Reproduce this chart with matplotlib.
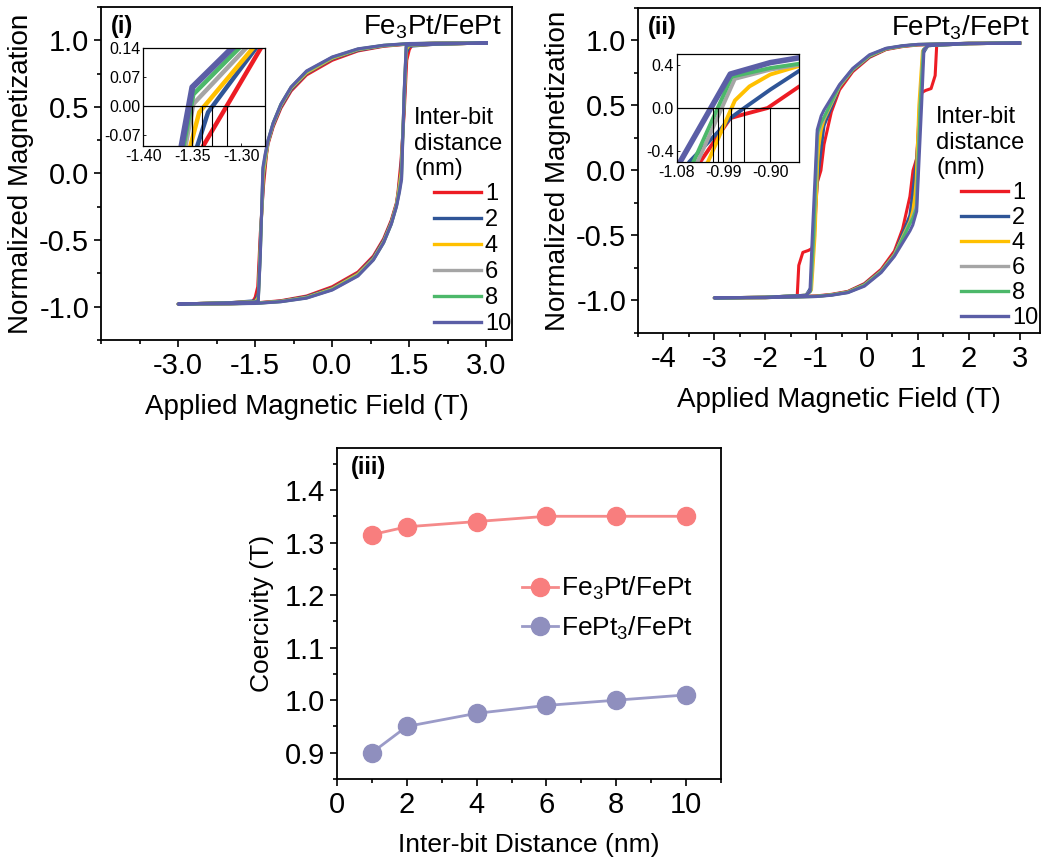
import matplotlib
matplotlib.use('Agg')
import matplotlib.pyplot as plt
from matplotlib.lines import Line2D
from matplotlib.ticker import MultipleLocator
import numpy as np

plt.rcParams['font.family'] = ['Liberation Sans', 'DejaVu Sans']
plt.rcParams['mathtext.fontset'] = 'custom'
plt.rcParams['mathtext.rm'] = 'Liberation Sans'

# ---- data ----
distances = [1, 2, 4, 6, 8, 10]
colors = ['#ED1C24', '#2F5597', '#FFC000', '#A5A5A5', '#4CB86A', '#5B5EA6']

coercivity_fe3pt = [1.315, 1.33, 1.34, 1.35, 1.35, 1.35]
coercivity_fept3 = [0.90, 0.95, 0.975, 0.99, 1.00, 1.01]

# descending branches (field from +3 T to -3 T), Fe3Pt/FePt
fe3pt_h1 = [3.0, 2.0, 1.5, 1.0, 0.5, 0.0, -0.5, -0.8, -1.0, -1.15, -1.25, -1.28, -1.339, -1.40, -1.45, -1.5, -1.55, -2.0, -3.0]
fe3pt_m1 = [0.98, 0.978, 0.972, 0.955, 0.92, 0.85, 0.74, 0.62, 0.49, 0.35, 0.22, 0.14, -0.096, -0.45, -0.85, -0.93, -0.962, -0.97, -0.98]
fe3pt_h2 = [3.0, 2.0, 1.5, 1.0, 0.5, 0.0, -0.5, -0.8, -1.0, -1.15, -1.25, -1.285, -1.334, -1.345, -1.40, -1.44, -1.5, -2.0, -3.0]
fe3pt_m2 = [0.98, 0.978, 0.973, 0.958, 0.925, 0.86, 0.75, 0.63, 0.50, 0.36, 0.23, 0.14, -0.015, -0.096, -0.5, -0.9, -0.955, -0.97, -0.98]
fe3pt_h4 = [3.0, 2.0, 1.5, 1.0, 0.5, 0.0, -0.5, -0.8, -1.0, -1.15, -1.25, -1.288, -1.343, -1.352, -1.40, -1.44, -1.5, -2.0, -3.0]
fe3pt_m4 = [0.98, 0.978, 0.974, 0.96, 0.93, 0.865, 0.755, 0.64, 0.51, 0.37, 0.235, 0.14, -0.015, -0.096, -0.55, -0.93, -0.962, -0.97, -0.98]
fe3pt_h6 = [3.0, 2.0, 1.5, 1.0, 0.5, 0.0, -0.5, -0.8, -1.0, -1.15, -1.25, -1.295, -1.349, -1.357, -1.40, -1.44, -1.5, -2.0, -3.0]
fe3pt_m6 = [0.98, 0.978, 0.975, 0.961, 0.932, 0.87, 0.762, 0.645, 0.515, 0.375, 0.24, 0.14, 0.005, -0.096, -0.6, -0.95, -0.965, -0.97, -0.98]
fe3pt_h8 = [3.0, 2.0, 1.5, 1.0, 0.5, 0.0, -0.5, -0.8, -1.0, -1.15, -1.25, -1.302, -1.349, -1.359, -1.40, -1.44, -1.5, -2.0, -3.0]
fe3pt_m8 = [0.98, 0.978, 0.975, 0.962, 0.934, 0.872, 0.766, 0.648, 0.52, 0.38, 0.245, 0.14, 0.028, -0.096, -0.6, -0.95, -0.965, -0.97, -0.98]
fe3pt_h10 = [3.0, 2.0, 1.5, 1.0, 0.5, 0.0, -0.5, -0.8, -1.0, -1.15, -1.25, -1.309, -1.350, -1.361, -1.40, -1.44, -1.5, -2.0, -3.0]
fe3pt_m10 = [0.98, 0.978, 0.976, 0.963, 0.936, 0.875, 0.77, 0.65, 0.52, 0.38, 0.25, 0.14, 0.045, -0.096, -0.62, -0.96, -0.965, -0.97, -0.98]

# descending branches, FePt3/FePt
fept3_h1 = [3.0, 2.0, 1.0, 0.7, 0.375, 0.05, -0.28, -0.54, -0.70, -0.844, -0.905, -0.952, -0.977, -1.035, -1.08, -1.15, -1.26, -1.34, -1.37, -1.5, -2.0, -3.0]
fept3_m1 = [0.98, 0.978, 0.965, 0.953, 0.93, 0.87, 0.76, 0.62, 0.45, 0.20, 0.0, -0.06, -0.094, -0.5, -0.6, -0.615, -0.63, -0.73, -0.96, -0.97, -0.975, -0.98]
fept3_h2 = [3.0, 2.0, 1.0, 0.7, 0.375, 0.05, -0.28, -0.54, -0.844, -0.90, -0.95, -0.977, -1.0, -1.056, -1.10, -1.2, -2.0, -3.0]
fept3_m2 = [0.98, 0.978, 0.967, 0.956, 0.933, 0.875, 0.77, 0.64, 0.345, 0.17, 0.0, -0.094, -0.22, -0.5, -0.9, -0.96, -0.975, -0.98]
fept3_h4 = [3.0, 2.0, 1.0, 0.7, 0.375, 0.05, -0.28, -0.54, -0.844, -0.90, -0.94, -0.968, -1.02, -1.09, -1.2, -2.0, -3.0]
fept3_m4 = [0.98, 0.978, 0.968, 0.957, 0.935, 0.88, 0.775, 0.645, 0.39, 0.31, 0.20, 0.07, -0.5, -0.92, -0.96, -0.975, -0.98]
fept3_h6 = [3.0, 2.0, 1.0, 0.7, 0.375, 0.05, -0.28, -0.54, -0.844, -0.90, -0.968, -1.04, -1.10, -1.2, -2.0, -3.0]
fept3_m6 = [0.98, 0.978, 0.969, 0.958, 0.937, 0.883, 0.778, 0.65, 0.40, 0.355, 0.27, -0.5, -0.92, -0.96, -0.975, -0.98]
fept3_h8 = [3.0, 2.0, 1.0, 0.7, 0.375, 0.05, -0.28, -0.54, -0.844, -0.90, -0.974, -1.048, -1.11, -1.2, -2.0, -3.0]
fept3_m8 = [0.98, 0.978, 0.969, 0.958, 0.938, 0.885, 0.78, 0.655, 0.41, 0.37, 0.29, -0.5, -0.93, -0.96, -0.975, -0.98]
fept3_h10 = [3.0, 2.0, 1.0, 0.7, 0.375, 0.05, -0.28, -0.54, -0.844, -0.90, -0.977, -1.0736, -1.12, -1.2, -2.0, -3.0]
fept3_m10 = [0.98, 0.978, 0.97, 0.96, 0.94, 0.89, 0.785, 0.66, 0.465, 0.42, 0.314, -0.50, -0.93, -0.96, -0.975, -0.98]

fe3pt_branches = [(fe3pt_h1, fe3pt_m1), (fe3pt_h2, fe3pt_m2), (fe3pt_h4, fe3pt_m4),
                  (fe3pt_h6, fe3pt_m6), (fe3pt_h8, fe3pt_m8), (fe3pt_h10, fe3pt_m10)]
fept3_branches = [(fept3_h1, fept3_m1), (fept3_h2, fept3_m2), (fept3_h4, fept3_m4),
                  (fept3_h6, fept3_m6), (fept3_h8, fept3_m8), (fept3_h10, fept3_m10)]


def full_loop(h, m):
    # ascending branch is the point-mirror of the descending one
    h = np.array(h)
    m = np.array(m)
    return np.concatenate([h, -h]), np.concatenate([m, -m])


W, H = 1045, 864
fig = plt.figure(figsize=(W / 100, H / 100), dpi=100)


def px(x, y):
    return (x / W, 1 - y / H)


TICK = 21
LABEL = 20


def style_axes(ax):
    for s in ax.spines.values():
        s.set_linewidth(1.3)
    ax.tick_params(which='both', direction='out', top=False, right=False, labelsize=TICK, width=1.2)
    ax.tick_params(which='major', length=5)
    ax.tick_params(which='minor', length=3)


def hyst_panel(rect, branches, xlim, xticks, xminor, xfmt, tag, title, inset_rect, inset_xlim, inset_ylim,
               inset_xticks, inset_yticks, inset_yfmt, coercivity, title_xy, leg_xy, row_gap, inset_lw):
    ax = fig.add_axes(rect)
    for (h, m), c in zip(branches, colors):
        hh, mm = full_loop(h, m)
        ax.plot(hh, mm, color=c, lw=2.2)
    ax.set_xlim(*xlim)
    ax.set_ylim(-1.25, 1.25)
    ax.set_xticks(xticks)
    ax.set_xticklabels([xfmt.format(v) for v in xticks])
    ax.xaxis.set_minor_locator(MultipleLocator(xminor))
    ax.set_yticks([-1.0, -0.5, 0.0, 0.5, 1.0])
    ax.set_yticklabels(['-1.0', '-0.5', '0.0', '0.5', '1.0'])
    ax.yaxis.set_minor_locator(MultipleLocator(0.25))
    style_axes(ax)
    ax.set_xlabel('Applied Magnetic Field (T)', fontsize=LABEL, labelpad=10)
    ax.set_ylabel('Normalized Magnetization', fontsize=LABEL, labelpad=4)
    ax.text(0.025, 0.975, tag, transform=ax.transAxes, fontsize=17, fontweight='bold', va='top', ha='left')
    ax.text(0.975, 0.985, title, transform=ax.transAxes, fontsize=20, va='top', ha='right')

    fig.text(*px(*title_xy), 'Inter-bit\ndistance\n(nm)', fontsize=17, va='top', ha='left', linespacing=1.22)
    handles = [Line2D([], [], color=c, lw=2.4) for c in colors]
    ax.legend(handles, [str(d) for d in distances], loc='upper left', bbox_to_anchor=px(*leg_xy),
              bbox_transform=fig.transFigure, frameon=False, fontsize=17, handlelength=2.0,
              handletextpad=0.15, labelspacing=row_gap, borderpad=0, borderaxespad=0)

    ins = fig.add_axes(inset_rect)
    for (h, m), c, d in zip(branches, colors, distances):
        ins.plot(h, m, color=c, lw=inset_lw + (1.2 if d == 10 else 0), solid_capstyle='butt')
    ins.set_xlim(*inset_xlim)
    ins.set_ylim(*inset_ylim)
    ins.axhline(0, color='k', lw=0.9)
    ins.vlines([-c for c in coercivity], inset_ylim[0], 0, colors='k', lw=0.8)
    ins.set_xticks(inset_xticks)
    ins.set_xticklabels(['{:.2f}'.format(v) for v in inset_xticks])
    ins.set_yticks(inset_yticks)
    ins.set_yticklabels([inset_yfmt.format(v) for v in inset_yticks])
    ins.tick_params(labelsize=11.5, length=2, width=0.6, direction='in', pad=2)
    for s in ins.spines.values():
        s.set_linewidth(0.9)
    return ax


hyst_panel([0.0967, 0.6065, 0.3933, 0.3854], fe3pt_branches, (-4.5, 3.5), [-3.0, -1.5, 0.0, 1.5, 3.0], 0.75,
           '{:.1f}', '(i)', r'Fe$_{\mathregular{3}}$Pt/FePt',
           [0.1371, 0.831, 0.1165, 0.1138], (-1.40, -1.276), (-0.096, 0.14),
           [-1.40, -1.35, -1.30], [-0.07, 0.0, 0.07, 0.14], '{:.2f}', coercivity_fe3pt,
           (414, 107), (434, 183), 0.17, 3.2)

hyst_panel([0.6105, 0.6146, 0.3847, 0.3762], fept3_branches, (-4.5, 3.4), [-4, -3, -2, -1, 0, 1, 2, 3], 0.5,
           '{:d}', '(ii)', r'FePt$_{\mathregular{3}}$/FePt',
           [0.6476, 0.8125, 0.1173, 0.125], (-1.08, -0.844), (-0.5, 0.5),
           [-1.08, -0.99, -0.90], [-0.4, 0.0, 0.4], '{:.1f}', coercivity_fept3,
           (936, 106), (961, 182), 0.13, 2.8)

# ---- panel (iii) ----
ax3 = fig.add_axes([0.3225, 0.0984, 0.3675, 0.3831])
ax3.plot(distances, coercivity_fe3pt, color='#F58A8A', lw=2, marker='o', ms=13,
         mfc='#F87E7E', mec='#F87E7E', label=r'Fe$_{\mathregular{3}}$Pt/FePt')
ax3.plot(distances, coercivity_fept3, color='#9B9BC8', lw=2, marker='o', ms=13,
         mfc='#8F8FBE', mec='#8F8FBE', label=r'FePt$_{\mathregular{3}}$/FePt')
ax3.set_xlim(0, 11)
ax3.set_ylim(0.85, 1.48)
ax3.set_xticks([0, 2, 4, 6, 8, 10])
ax3.xaxis.set_minor_locator(MultipleLocator(1))
ax3.set_yticks([0.9, 1.0, 1.1, 1.2, 1.3, 1.4])
ax3.set_yticklabels(['0.9', '1.0', '1.1', '1.2', '1.3', '1.4'])
ax3.yaxis.set_minor_locator(MultipleLocator(0.05))
style_axes(ax3)
ax3.set_xlabel('Inter-bit Distance (nm)', fontsize=19, labelpad=10)
ax3.set_ylabel('Coercivity (T)', fontsize=19, labelpad=8)
ax3.text(0.035, 0.975, '(iii)', transform=ax3.transAxes, fontsize=17, fontweight='bold', va='top', ha='left')
ax3.legend(loc='upper left', bbox_to_anchor=px(522, 575), bbox_transform=fig.transFigure,
           frameon=False, fontsize=19, handlelength=1.35, handletextpad=0.12, labelspacing=0.45,
           borderpad=0, borderaxespad=0)

fig.savefig('out.png', dpi=100)
